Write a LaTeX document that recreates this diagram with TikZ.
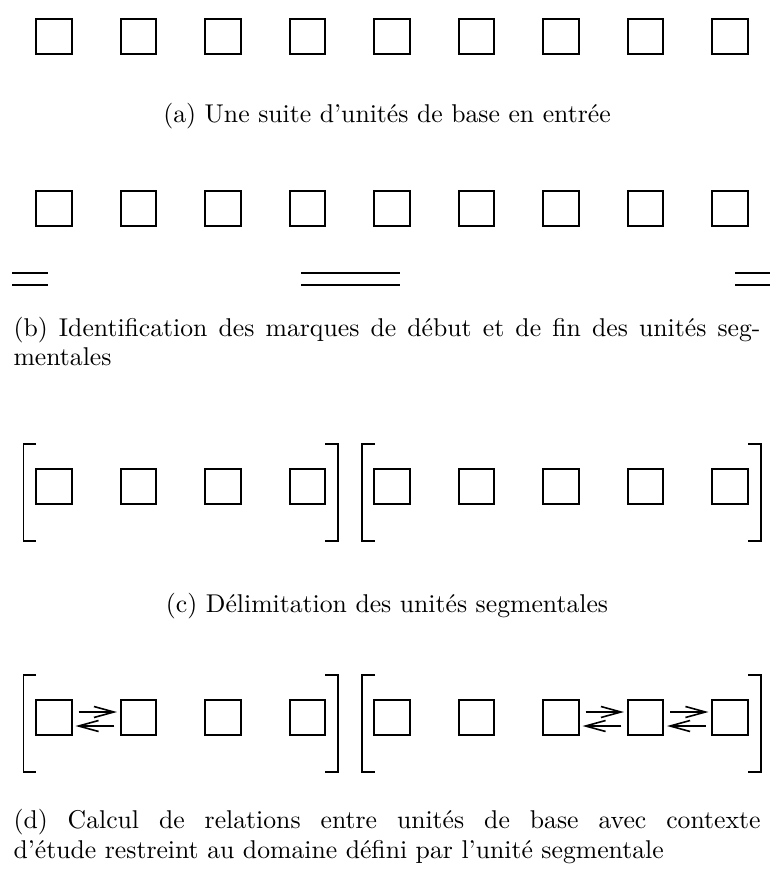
\documentclass[tikz,border=0pt]{standalone}
\usepackage{fontspec}
\usetikzlibrary{arrows.meta}
\begin{document}
\begin{tikzpicture}[x=1pt,y=-1pt,
  box/.style={draw,line width=1.6pt,minimum size=35.5pt,inner sep=0pt},
  brk/.style={line width=1.6pt},
  rel/.style={line width=1.6pt,-{Straight Barb[length=20pt,width=11pt]}},
  captxt/.style={font=\fontsize{10}{11.67}\selectfont,text width=290.66pt,inner sep=0pt,anchor=base west,scale=2.57,transform shape}]
\useasboundingbox (0,0) rectangle (770,880);
\foreach \i in {1,...,9} {
  \pgfmathsetmacro\xx{54+84.5*(\i-1)}
  \node[box] (a\i) at (\xx,36.5) {};
  \node[box] (b\i) at (\xx,208.5) {};
  \node[box] (c\i) at (\xx,486.5) {};
  \node[box] (d\i) at (\xx,717.5) {};
}
% (b) marks
\draw[brk] (12,273) -- (48,273) (12,285) -- (48,285);
\draw[brk] (301,273) -- (400,273) (301,285) -- (400,285);
\draw[brk] (735,273) -- (770,273) (735,285) -- (770,285);
% (c) brackets
\draw[brk] (36,444) -- (23.5,444) -- (23.5,541) -- (36,541);
\draw[brk] (325,444) -- (338,444) -- (338,541) -- (325,541);
\draw[brk] (375,444) -- (362,444) -- (362,541) -- (375,541);
\draw[brk] (748,444) -- (761,444) -- (761,541) -- (748,541);
% (d) brackets
\draw[brk] (36,675) -- (23.5,675) -- (23.5,772) -- (36,772);
\draw[brk] (325,675) -- (338,675) -- (338,772) -- (325,772);
\draw[brk] (375,675) -- (362,675) -- (362,772) -- (375,772);
\draw[brk] (748,675) -- (761,675) -- (761,772) -- (748,772);
% (d) relations
\foreach \p/\q in {d1/d2,d7/d8,d8/d9} {
  \draw[rel,shorten <=6pt,shorten >=3pt] ([yshift=5.5pt]\p.east) -- ([yshift=5.5pt]\q.west);
  \draw[rel,shorten <=5.5pt,shorten >=3pt] ([yshift=-8.5pt]\q.west) -- ([yshift=-8.5pt]\p.east);
}
% captions
\node[captxt,align=center] (capa) at (13,123) {(a) Une suite d'unités de base en entrée};
\node[captxt,align=justify] (capb) at (13,336) {(b) Identification des marques de début et de fin des unités seg-\linebreak mentales};
\node[captxt,align=center] (capc) at (13,612) {(c) Délimitation des unités segmentales};
\node[captxt,align=justify] (capd) at (13,828) {(d) Calcul de relations entre unités de base avec contexte\linebreak d'étude restreint au domaine défini par l'unité segmentale};
\end{tikzpicture}
\end{document}
